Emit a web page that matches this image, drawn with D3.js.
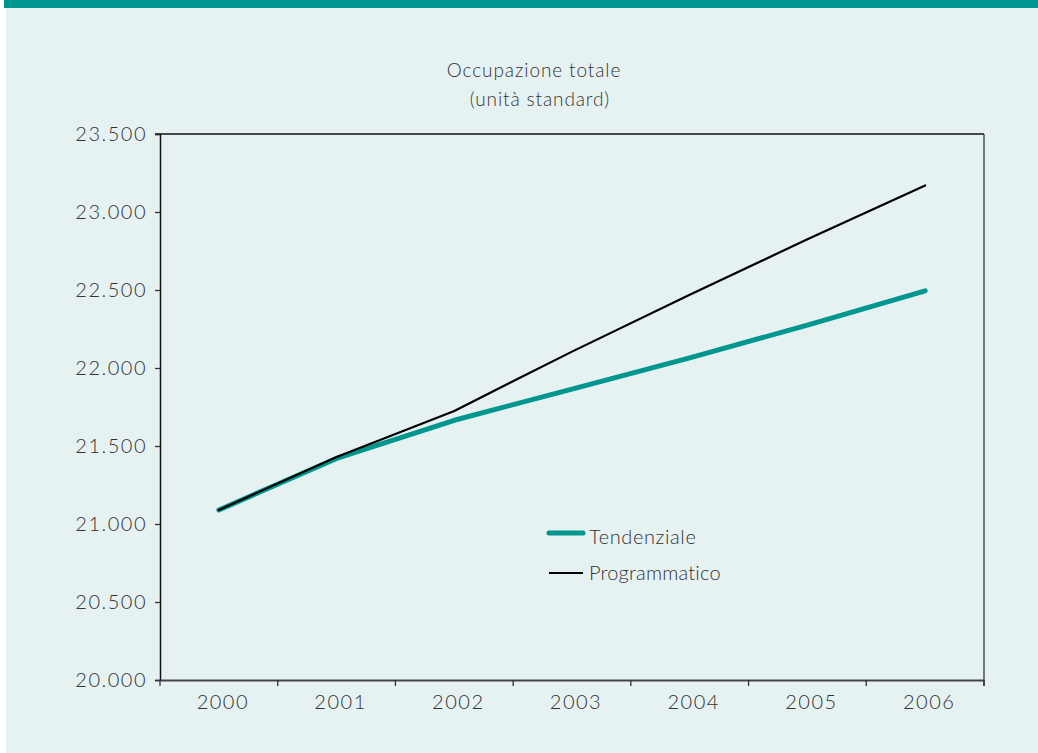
<!DOCTYPE html>
<html><head><meta charset="utf-8">
<script src="https://cdn.jsdelivr.net/npm/d3@7"></script>
<style>
html,body{margin:0;padding:0;background:#fff;}
svg{display:block;}
text{font-family:"Lato","Open Sans",sans-serif;font-weight:300;fill:#333;}
</style></head>
<body>
<script>
const years = ["2000","2001","2002","2003","2004","2005","2006"];
const tendenziale = [21090, 21420, 21665, 21865, 22065, 22275, 22495];
const programmatico = [21090, 21430, 21725, 22105, 22470, 22825, 23170];
const yTicks = [20000, 20500, 21000, 21500, 22000, 22500, 23000, 23500];
const titleLines = ["Occupazione totale", "(unità standard)"];
const seriesNames = ["Tendenziale", "Programmatico"];

const W = 1038, H = 753;
const svg = d3.select("body").append("svg").attr("width", W).attr("height", H);

svg.append("rect").attr("x", 6).attr("y", 0).attr("width", W - 6).attr("height", H).attr("fill", "#E6F2F2");
svg.append("rect").attr("x", 4).attr("y", 0).attr("width", W - 4).attr("height", 8).attr("fill", "#009690");

const L = 160, R = 984, T = 134, B = 680;
const x = d3.scaleBand().domain(years).range([L, R]);
const y = d3.scaleLinear().domain([20000, 23500]).range([B, T]);
const fmtY = v => d3.format(",.0f")(v).replace(/,/g, ".");

// frame: top and right
svg.append("line").attr("x1", L - 5).attr("x2", R).attr("y1", T).attr("y2", T).attr("stroke", "#111").attr("stroke-width", 1.3);
svg.append("line").attr("x1", R).attr("x2", R).attr("y1", T).attr("y2", B + 6).attr("stroke", "#333").attr("stroke-width", 1.3);

// y axis
const yAx = svg.append("g").attr("transform", `translate(${L},0)`)
  .call(d3.axisLeft(y).tickValues(yTicks).tickFormat(fmtY).tickSize(5).tickPadding(8));
yAx.select(".domain").attr("stroke", "#111").attr("stroke-width", 1.5);
yAx.selectAll(".tick line").attr("stroke", "#333").attr("stroke-width", 1.3);
yAx.selectAll("text").attr("font-size", 20).attr("letter-spacing", 1.5).style("fill", "#333");

// x axis
const xAx = svg.append("g").attr("transform", `translate(0,${B})`)
  .call(d3.axisBottom(x).tickSize(0).tickPadding(15));
xAx.select(".domain").attr("stroke", "#444").attr("stroke-width", 2);
xAx.selectAll("text").attr("font-size", 20).attr("letter-spacing", 1.5).attr("dx", 4).style("fill", "#333");
// boundary ticks between categories
const bounds = years.map(d => x(d)).concat([R]);
svg.append("g").selectAll("line").data(bounds).join("line")
  .attr("x1", d => d).attr("x2", d => d).attr("y1", B).attr("y2", B + 6)
  .attr("stroke", "#333").attr("stroke-width", 1.3);

const line = d3.line().x((d, i) => x(years[i]) + x.bandwidth() / 2).y(d => y(d));
svg.append("path").datum(tendenziale).attr("d", line).attr("fill", "none")
  .attr("stroke", "#009690").attr("stroke-width", 5).attr("stroke-linecap", "round").attr("stroke-linejoin", "round");
svg.append("path").datum(programmatico).attr("d", line).attr("fill", "none")
  .attr("stroke", "#000").attr("stroke-width", 2.2).attr("stroke-linecap", "round").attr("stroke-linejoin", "round");

// title
svg.append("text").attr("x", 534).attr("y", 77).attr("text-anchor", "middle").attr("font-size", 19).attr("letter-spacing", 0.9).text(titleLines[0]);
svg.append("text").attr("x", 540).attr("y", 106).attr("text-anchor", "middle").attr("font-size", 19).attr("letter-spacing", 0.9).text(titleLines[1]);

// legend
const lg = svg.append("g");
lg.append("line").attr("x1", 549).attr("x2", 583).attr("y1", 533).attr("y2", 533).attr("stroke", "#009690").attr("stroke-width", 5).attr("stroke-linecap", "round");
lg.append("text").attr("x", 589).attr("y", 544).attr("font-size", 20).attr("letter-spacing", 0.6).text(seriesNames[0]);
lg.append("line").attr("x1", 549).attr("x2", 583).attr("y1", 573).attr("y2", 573).attr("stroke", "#000").attr("stroke-width", 2.2);
lg.append("text").attr("x", 589).attr("y", 580).attr("font-size", 20).attr("letter-spacing", 0.2).text(seriesNames[1]);
</script>
</body></html>
